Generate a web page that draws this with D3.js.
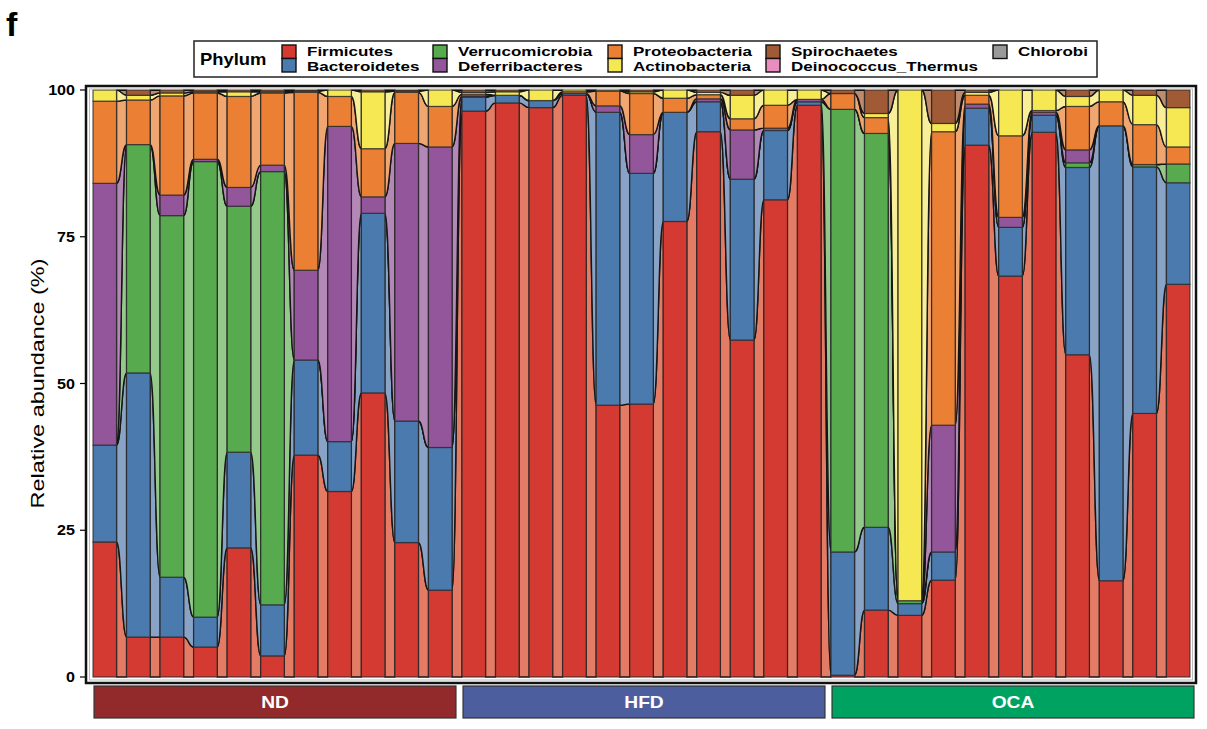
<!DOCTYPE html>
<html><head><meta charset="utf-8">
<script src="https://cdn.jsdelivr.net/npm/d3@7/dist/d3.min.js"></script>
<style>body{margin:0;background:#fff;} svg{display:block;font-family:"Liberation Sans",Arial,sans-serif;}</style>
</head><body>
<svg id="chart" width="1207" height="729"></svg>
<script>
// ---------------- DATA ----------------
const groups = ["ND", "HFD", "OCA"];
const samples = [
  "ND1","ND2","ND3","ND4","ND5","ND6","ND7","ND8","ND9","ND10","ND11",
  "HFD1","HFD2","HFD3","HFD4","HFD5","HFD6","HFD7","HFD8","HFD9","HFD10","HFD11",
  "OCA1","OCA2","OCA3","OCA4","OCA5","OCA6","OCA7","OCA8","OCA9","OCA10","OCA11"
];
const sampleGroup = samples.map(s => s.replace(/[0-9]+$/, ""));
const phyla = ["Firmicutes","Bacteroidetes","Verrucomicrobia","Deferribacteres","Proteobacteria",
               "Actinobacteria","Spirochaetes","Deinococcus_Thermus","Chlorobi"];
const legendOrder = ["Firmicutes","Bacteroidetes","Verrucomicrobia","Deferribacteres","Proteobacteria",
                     "Actinobacteria","Spirochaetes","Deinococcus_Thermus","Chlorobi"];

const firmicutes      = [23.0, 6.8, 6.8, 5.1,22.0, 3.6,37.8,31.6,48.4,22.9,14.8,
                         96.4,97.8,97.0,99.1,46.3,46.5,77.6,92.9,57.4,81.3,97.4,
                          0.3,11.4,10.5,16.5,90.6,68.3,92.8,54.9,16.4,44.9,66.9];
const bacteroidetes   = [16.5,45.0,10.2, 5.1,16.3, 8.7,16.2, 8.5,30.6,20.7,24.3,
                          2.4, 1.3, 1.2, 0.3,49.9,39.3,18.6, 5.1,27.4,11.8, 0.6,
                         21.0,14.1, 2.0, 4.8, 6.3, 8.3, 2.9,31.9,77.5,42.0,17.3];
const verrucomicrobia = [ 0.0,38.9,61.6,77.6,41.9,73.8, 0.0, 0.0, 0.0, 0.0, 0.0,
                          0.0, 0.0, 0.0, 0.0, 0.0, 0.0, 0.0, 0.0, 0.0, 0.0, 0.0,
                         75.4,67.1, 0.5, 0.0, 0.0, 0.0, 0.0, 0.8, 0.0, 0.4, 3.2];
const deferribacteres = [44.6, 0.0, 3.5, 0.4, 3.2, 1.1,15.3,53.7, 2.8,47.3,51.2,
                          0.2, 0.0, 0.0, 0.0, 1.1, 6.6, 0.0, 0.5, 8.4, 0.4, 0.4,
                          0.0, 0.0, 0.0,21.6, 0.7, 1.7, 0.5, 2.2, 0.0, 0.0, 0.0];
const proteobacteria  = [14.0, 7.6,16.9,11.3,15.5,12.3,30.3, 5.1, 8.2, 8.7, 6.9,
                          0.3, 0.0, 0.0, 0.3, 2.5, 7.0, 2.4, 0.7, 1.9, 3.9, 0.0,
                          2.7, 2.7, 0.0,50.0, 1.5,13.9, 0.3, 7.4, 4.1, 6.8, 2.9];
const actinobacteria  = [ 1.9, 0.8, 0.5, 0.2, 0.8, 0.2, 0.2, 1.1, 9.7, 0.2, 2.8,
                          0.3, 0.6, 1.8, 0.3, 0.2, 0.3, 1.4, 0.4, 4.0, 2.6, 1.6,
                          0.0, 0.7,87.0, 1.4, 0.5, 7.8, 3.5, 1.7, 2.0, 5.0, 6.7];
const spirochaetes    = [ 0.0, 0.9, 0.5, 0.3, 0.3, 0.3, 0.2, 0.0, 0.3, 0.2, 0.0,
                          0.4, 0.3, 0.0, 0.0, 0.0, 0.3, 0.0, 0.4, 0.9, 0.0, 0.0,
                          0.6, 4.0, 0.0, 5.7, 0.4, 0.0, 0.0, 1.1, 0.0, 0.9, 3.0];
const deinococcus     = new Array(33).fill(0);
const chlorobi        = new Array(33).fill(0);
const yTicks = [0, 25, 50, 75, 100];

// ---------------- STYLE ----------------
const strataColor = {
  Firmicutes:"#D43A31", Bacteroidetes:"#4A7AAE", Verrucomicrobia:"#58AA4F", Deferribacteres:"#93569A",
  Proteobacteria:"#EB8035", Actinobacteria:"#F5E852", Spirochaetes:"#A05A36",
  Deinococcus_Thermus:"#E98DBE", Chlorobi:"#9A9A9A"
};
const flowColor = {
  Firmicutes:"#E47B65", Bacteroidetes:"#88A3C6", Verrucomicrobia:"#95C98B", Deferribacteres:"#B387B6",
  Proteobacteria:"#F0A670", Actinobacteria:"#F8EF98", Spirochaetes:"#C08B6C",
  Deinococcus_Thermus:"#F2BCD9", Chlorobi:"#C4C4C4"
};
const groupColor = {ND:"#922A2C", HFD:"#4D5E9F", OCA:"#00A262"};

const valuesByPhylum = {
  Firmicutes: firmicutes, Bacteroidetes: bacteroidetes, Verrucomicrobia: verrucomicrobia,
  Deferribacteres: deferribacteres, Proteobacteria: proteobacteria, Actinobacteria: actinobacteria,
  Spirochaetes: spirochaetes, Deinococcus_Thermus: deinococcus, Chlorobi: chlorobi
};
const rows = samples.map((s, i) => {
  const r = {sample: s};
  phyla.forEach(p => r[p] = valuesByPhylum[p][i]);
  return r;
});
const series = d3.stack().keys(phyla)(rows);

const svg = d3.select("#chart");
const x = d3.scaleBand().domain(samples).range([88, 1195]).paddingInner(0.30).paddingOuter(0.15);
const y = d3.scaleLinear().domain([0, 100]).range([677, 90]);
const bw = x.bandwidth();

// flows
const flowG = svg.append("g");
series.forEach(ser => {
  const p = ser.key;
  for (let i = 0; i < samples.length - 1; i++) {
    const a = ser[i], b = ser[i + 1];
    const x0 = x(samples[i]) + bw, x1 = x(samples[i + 1]);
    const k = (x1 - x0) * 0.5;
    const path = d3.path();
    path.moveTo(x0, y(a[1]));
    path.bezierCurveTo(x0 + k, y(a[1]), x1 - k, y(b[1]), x1, y(b[1]));
    path.lineTo(x1, y(b[0]));
    path.bezierCurveTo(x1 - k, y(b[0]), x0 + k, y(a[0]), x0, y(a[0]));
    path.closePath();
    flowG.append("path").attr("d", path.toString())
      .attr("fill", flowColor[p]).attr("stroke", "#151515").attr("stroke-width", 1.4)
      .attr("stroke-linejoin", "round");
  }
});

// strata
const strataG = svg.append("g");
series.forEach(ser => {
  strataG.selectAll(null).data(ser).join("rect")
    .attr("x", (d, i) => x(samples[i]))
    .attr("width", bw)
    .attr("y", d => y(d[1]))
    .attr("height", d => y(d[0]) - y(d[1]))
    .attr("fill", strataColor[ser.key])
    .attr("stroke", "#2a2a2a").attr("stroke-opacity", 0.8).attr("stroke-width", 1.2);
});

// panel frame
svg.append("rect").attr("x", 86).attr("y", 86).attr("width", 1110).attr("height", 597)
  .attr("fill", "none").attr("stroke", "#111").attr("stroke-width", 2.5);
svg.append("rect").attr("x", 89.5).attr("y", 89).attr("width", 1103).attr("height", 591)
  .attr("fill", "none").attr("stroke", "#bbb").attr("stroke-width", 1);

// y axis
const yAxis = svg.append("g");
yTicks.forEach(t => {
  yAxis.append("line").attr("x1", 80).attr("x2", 85).attr("y1", y(t)).attr("y2", y(t))
    .attr("stroke", "#000").attr("stroke-width", 1.2);
  yAxis.append("text").attr("transform", `translate(75,${y(t) + 5}) scale(1.15,1)`)
    .attr("text-anchor", "end").attr("font-size", 14).attr("font-weight", "bold").text(t);
});
svg.append("text")
  .attr("transform", `translate(44,${(90 + 677) / 2}) rotate(-90)`)
  .attr("text-anchor", "middle").attr("font-size", 19)
  .attr("textLength", 250).attr("lengthAdjust", "spacingAndGlyphs")
  .text("Relative abundance (%)");

// group strips
groups.forEach(g => {
  const members = samples.filter((s, i) => sampleGroup[i] === g);
  const gx0 = x(members[0]) + 1, gx1 = x(members[members.length - 1]) + bw + 4;
  svg.append("rect").attr("x", gx0).attr("y", 686).attr("width", gx1 - gx0).attr("height", 32)
    .attr("fill", groupColor[g]).attr("stroke", "#333").attr("stroke-width", 1.2);
  svg.append("text").attr("transform", `translate(${(gx0 + gx1) / 2},708) scale(1.2,1)`)
    .attr("text-anchor", "middle").attr("font-size", 16).attr("font-weight", "bold")
    .attr("fill", "#fff").text(g);
});

// panel tag
svg.append("text").attr("x", 6).attr("y", 36).attr("font-size", 34).attr("font-weight", "bold").text("f");

// legend
const lg = svg.append("g");
lg.append("rect").attr("x", 194).attr("y", 41).attr("width", 903).attr("height", 36)
  .attr("fill", "#fff").attr("stroke", "#222").attr("stroke-width", 1.5);
lg.append("text").attr("transform", "translate(200,65) scale(1.15,1)")
  .attr("font-size", 16).attr("font-weight", "bold").text("Phylum");
const colX = [282, 433, 608, 766, 993];
legendOrder.forEach((p, i) => {
  const c = Math.floor(i / 2), r = i % 2;
  const kx = colX[c], ky = 45 + r * 13.5;
  lg.append("rect").attr("x", kx).attr("y", ky).attr("width", 14).attr("height", 13.5)
    .attr("fill", strataColor[p]).attr("stroke", "#111").attr("stroke-width", 1.4);
  lg.append("text").attr("transform", `translate(${kx + 25},${56 + r * 14.5}) scale(1.26,1)`)
    .attr("font-size", 13.5).attr("font-weight", "bold").text(p);
});
</script>
</body></html>
